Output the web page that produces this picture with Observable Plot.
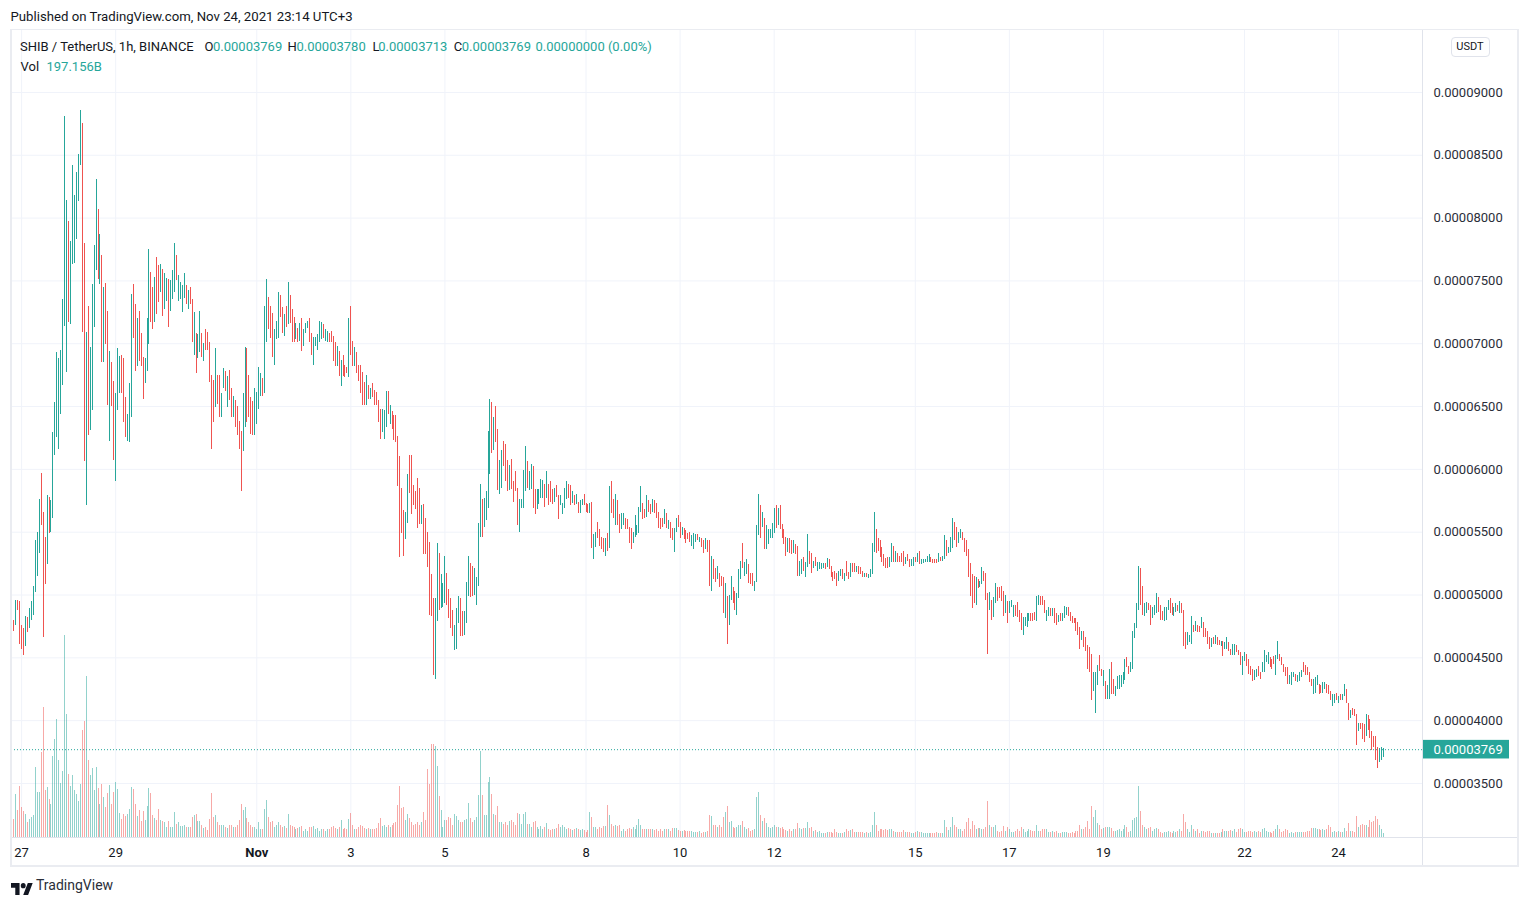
<!DOCTYPE html>
<html>
<head>
<meta charset="utf-8">
<script src="https://cdn.jsdelivr.net/npm/d3@7"></script>
<script src="https://cdn.jsdelivr.net/npm/@observablehq/plot@0.6"></script>
<style>
html,body{margin:0;padding:0;background:#fff;overflow:hidden;}
#wrap{position:relative;width:1529px;height:905px;font-family:Roboto,"Liberation Sans",sans-serif;color:#131722;}
#wrap svg{position:absolute;left:0;top:0;overflow:visible;}
.t{position:absolute;white-space:nowrap;font-size:13px;line-height:13px;}
.line{position:absolute;background:#e0e3eb;}
</style>
</head>
<body>
<div id="wrap"></div>
<script>
// ---------- data (prices in units of 1e-7 USDT, volume in billions SHIB) ----------
const firstBarUTC3 = [2021, 9, 26, 19];          // first visible 1h bar: Oct 26 19:00 (UTC+3)
const lastBar = {open: 0.00003769, high: 0.00003780, low: 0.00003713, close: 0.00003769, volume: "197.156B"};

const barLow = [
466,471,476,488,461,457,452,459,470,473, 480,484,502,515,533,555,466,508,524,549,
550,561,611,625,616,644,667,714,677,717, 715,763,764,783,813,842,709,606,571,627,
631,647,713,758,751,747,685,685,699,651, 622,650,607,590,647,660,660,637,625,622,
621,641,704,678,682,686,682,656,668,678, 699,717,711,717,723,733,741,722,727,734,
713,726,735,741,750,734,735,725,736,731, 727,731,701,691,676,688,693,689,686,695,
695,669,616,637,649,652,641,641,664,662, 649,655,641,641,633,627,616,582,614,633,
637,641,628,627,627,636,648,658,658,660, 701,711,704,689,683,703,704,721,708,706,
713,715,716,701,701,703,701,702,694,698, 708,712,701,691,683,698,695,701,703,704,
702,701,701,701,686,682,682,674,666,674, 673,676,673,691,682,682,676,670,660,651,
651,651,656,656,657,651,651,637,624,629, 624,633,644,636,632,623,621,586,530,549,
531,544,557,581,564,571,568,553,556,556, 532,532,522,484,483,436,433,479,488,489,
490,493,492,481,473,467,456,457,477,467, 467,468,477,499,498,499,500,492,507,546,
546,554,559,569,596,613,615,621,583,580, 585,602,590,582,583,584,574,582,555,550,
569,569,582,585,583,584,569,564,568,572, 577,577,570,577,571,574,572,574,578,560,
571,564,569,576,577,571,573,571,572,565, 565,571,571,566,565,565,537,528,538,545,
539,536,534,531,535,537,565,561,555,555, 549,552,555,552,552,541,536,541,546,547,
549,566,560,561,562,566,564,566,565,561, 553,552,554,556,553,552,545,543,534,550,
554,545,547,544,541,544,542,539,536,542, 543,542,538,533,536,534,507,503,512,510,
512,506,507,485,481,461,476,496,493,488, 484,497,512,521,515,516,509,508,507,503,
510,547,545,554,536,536,540,545,545,549, 553,555,552,545,540,531,534,533,532,533,
532,515,515,516,519,514,522,524,517,521, 523,519,520,520,521,520,522,520,514,511,
512,507,511,515,512,511,515,512,514,518, 518,518,516,516,514,514,514,513,514,516,
534,533,535,530,526,523,521,521,522,526, 526,526,526,526,526,523,524,527,522,523,
523,526,526,524,524,525,526,526,526,526, 525,525,525,526,527,527,528,531,533,534,
537,543,538,541,545,543,534,531,514,499, 489,493,492,505,506,508,511,496,453,488,
480,482,493,495,497,495,483,485,477,485, 490,482,483,482,478,472,468,475,474,479,
479,479,480,479,492,492,492,485,479,483, 483,483,477,476,478,479,479,481,484,483,
479,477,477,471,468,457,464,458,455,441, 438,416,423,406,428,439,435,427,417,417,
417,421,421,419,425,425,426,429,432,442, 437,438,441,465,473,488,492,484,483,485,
488,476,481,484,485,486,480,480,479,480, 488,485,484,483,486,487,485,485,459,457,
460,462,461,470,471,470,470,473,466,466, 461,457,458,461,461,460,460,459,451,457,
457,455,452,452,452,454,452,444,436,447, 443,437,436,431,432,434,435,433,438,438,
446,445,442,441,445,436,449,447,444,438, 435,429,429,428,434,431,430,431,434,438,
436,436,430,427,421,422,428,421,422,422, 425,422,421,416,411,414,416,414,416,416,
419,414,400,402,404,403,380,391,393,385, 383,387,392,386,376,379,368,362,367,368,
371];

const barHigh = [
482,480,496,496,495,476,473,483,482,489, 495,507,543,550,576,597,566,546,579,578,
575,629,653,693,688,695,735,881,814,797, 781,842,818,836,851,886,875,780,709,730,
697,747,778,831,807,787,770,745,748,726, 694,685,670,660,696,690,691,688,657,644,
668,739,747,731,720,726,708,689,688,720, 775,757,745,753,769,762,763,759,756,752,
751,750,758,780,770,754,749,746,756,746, 742,745,735,725,708,707,726,708,700,711,
709,701,675,671,696,675,675,660,680,678, 674,679,664,658,655,650,638,630,660,697,
696,675,657,654,664,661,681,676,672,730, 751,737,730,724,711,718,741,738,729,723,
730,749,738,727,721,716,712,716,720,711, 716,718,720,708,705,705,707,718,717,715,
711,710,708,710,706,701,698,694,687,691, 683,681,720,730,702,697,693,683,683,677,
669,675,667,664,668,663,661,655,648,648, 647,662,662,651,646,643,643,626,610,585,
567,566,596,611,611,587,582,593,585,571, 572,561,550,542,516,497,497,541,533,516,
509,531,517,504,497,488,476,489,499,497, 487,487,510,531,525,523,521,514,557,588,
576,577,582,630,656,653,641,650,632,607, 615,622,620,607,603,608,590,598,585,576,
576,599,618,606,598,604,602,584,584,584, 592,591,588,598,588,590,584,585,587,579,
579,573,585,590,588,587,582,579,580,574, 575,576,580,573,572,573,574,548,550,558,
552,546,545,545,549,586,590,576,580,575, 564,565,565,561,560,554,553,550,563,555,
570,586,573,568,579,575,572,576,575,573, 566,561,561,568,565,559,558,553,553,561,
563,558,554,553,551,549,550,547,549,548, 548,546,545,543,545,543,543,531,528,521,
523,517,515,514,509,499,500,515,506,503, 501,520,527,541,526,528,524,517,517,511,
555,580,571,566,561,555,552,552,557,569, 571,569,571,556,552,546,545,545,543,543,
540,539,527,528,530,526,548,535,533,527, 530,526,526,525,525,525,529,528,523,518,
519,517,519,520,520,517,527,518,525,525, 525,523,523,522,519,517,517,516,520,541,
566,552,545,543,538,532,529,530,530,541, 539,535,533,531,533,535,530,532,528,528,
530,530,533,535,528,528,528,531,532,530, 528,528,528,533,530,531,547,543,538,546,
561,558,554,550,552,550,545,543,536,525, 516,515,514,512,511,522,519,517,501,502,
496,498,509,506,506,507,503,500,495,495, 496,492,492,494,488,485,482,482,485,485,
485,485,486,499,500,499,499,496,488,490, 489,489,489,485,484,485,485,491,490,490,
486,483,481,481,478,474,471,471,466,460, 458,453,438,438,444,452,441,440,431,428,
441,446,433,427,435,436,436,438,449,450, 443,446,471,477,493,523,521,507,493,494,
493,492,490,492,501,498,492,487,490,490, 496,497,493,490,493,492,495,493,488,470,
470,468,483,476,479,476,475,482,478,473, 471,466,465,466,468,466,464,463,463,462,
466,462,457,461,461,460,456,454,451,454, 453,449,443,441,440,441,443,438,446,456,
452,454,450,449,451,452,463,453,450,445, 442,442,436,438,438,437,436,438,440,446,
444,442,438,433,433,434,436,429,428,430, 430,429,428,423,421,421,422,419,421,421,
429,425,414,408,410,409,405,398,398,398, 397,405,404,401,391,387,387,379,378,379,
378];

// u = close >= open (teal), d = close < open (red)
const barDirection = [
"ududdddudu","uuuuudddud","uuuuuuuuud","uuuuuuddud","uuuudududd","udduuudddu","uudduddduu","uddudduduu","duuuduuuud","udduduudud",
"ddddudduud","uddudddduu","dddduuuudu","uddduuuddu","dudddududu","uudduuuuud","uuddddudud","dduddudddd","dududddddu","uududddddd",
"duuddddddu","dddddduudu","uudddduuud","duuudduuuu","duuuududdu","uddduddddu","uuuduudduu","uududddudd","uuuuddudud","uuddduduud",
"dddududdud","duudddduuu","uudduddudd","dddududduu","ddudddduuu","dudduddudd","uddduduudd","uuuduudddu","uududuuuuu","dudddduddu",
"dduuduuddu","duuuududdd","dduududdud","duddduduuu","uddddddduu","dudddduddu","ududuuuuud","ddduduuduu","udduuddddd","dduduudddu",
"duuddddudu","uudddduuuu","ddduuddduu","dudduduuud","dddddduddd","dduuuddudu","udduuuuuud","duuuuudduu","dduuuddduu","udduududdd",
"uuududdudd","ddududdudu","udduuddduu","dddduudduu","uuddduuddd","dduuuduuud","dddduuuddu","uddduududu","uddudddudd","dudddddduu",
"u"].join("");

const barVolume = [
1904,1036,2464,1540,2940,1708,1484,1288,840,1008, 1148,1260,4060,2632,2632,4928,7560,2716,2884,2184,
1876,4704,5684,6860,4452,3108,3808,11816,7140,3640, 2940,3584,2716,2464,2072,3080,6216,6748,9380,4452,
3584,4004,2716,4060,2828,1904,3080,2324,1736,2548, 2996,1904,2604,3164,2800,1372,1036,1316,1176,1316,
1624,2884,2772,1904,1204,1540,924,1484,980,1792, 2856,2548,1232,1064,980,1624,952,896,840,560,
924,560,560,1456,728,840,588,616,644,560, 560,560,1148,1260,1344,896,924,644,504,560,
364,1036,2520,1120,1260,840,700,644,644,560, 504,644,644,560,560,700,980,1876,1540,1736,
1064,840,700,560,560,420,840,420,420,1624, 2156,1120,840,896,560,644,840,672,560,616,
504,1316,700,616,560,420,504,560,616,336, 420,336,560,560,616,420,504,336,420,420,
336,420,420,560,616,504,420,560,952,420, 476,420,1036,1372,700,420,420,560,700,616,
504,420,504,420,420,420,504,784,1064,616, 644,560,700,560,700,784,840,1820,2940,1680,
1736,980,1316,1064,840,644,756,840,672,868, 1456,980,3920,3080,5404,5404,5320,4116,2380,1540,
560,980,980,1120,1064,700,1344,1176,980,840, 840,980,1036,1960,1064,840,980,1120,2436,5012,
2436,1260,1260,3192,3472,2492,1344,1260,1792,840, 840,756,840,644,896,980,840,644,1372,1344,
756,1344,1456,756,756,560,840,896,560,420, 616,420,560,784,420,364,420,420,476,728,
560,644,560,420,504,420,364,420,476,448, 364,420,364,280,364,1456,1120,560,560,420,
560,504,616,616,1848,1260,756,616,644,616, 700,336,420,336,420,504,420,560,420,700,
1036,644,420,420,420,420,420,420,364,420, 336,420,308,420,420,420,336,504,504,504,
364,308,336,364,336,308,308,308,280,280, 280,336,224,280,280,336,1260,1176,700,700,
560,644,560,1120,1456,1764,840,924,560,504, 560,700,644,896,560,420,504,336,364,420,
2296,2632,1232,896,1064,784,560,504,560,700, 560,560,476,560,420,364,336,420,336,420,
420,784,476,420,504,504,840,476,560,336, 364,280,336,224,224,224,280,280,280,224,
420,280,224,224,224,280,420,336,364,420, 280,280,280,280,280,224,280,224,280,644,
1456,644,336,420,420,364,420,364,420,420, 336,280,280,280,280,364,280,280,280,196,
196,280,336,280,280,196,196,196,224,224, 224,224,280,224,224,224,980,560,364,560,
1120,644,560,420,420,336,420,840,1064,420, 896,700,420,476,476,420,420,560,2100,644,
560,560,644,336,280,336,616,336,560,420, 280,280,336,420,336,560,420,280,336,420,
364,336,336,700,336,336,420,420,420,280, 280,336,280,336,196,196,280,280,280,196,
196,280,224,336,336,644,420,420,560,896, 420,1764,1120,1540,784,644,420,476,560,560,
560,504,336,336,364,420,336,420,700,560, 280,336,980,1064,1120,2940,1484,700,560,420,
476,560,336,420,476,420,280,224,280,280, 336,280,224,336,280,336,420,336,1344,840,
420,280,700,420,336,420,224,336,336,280, 336,336,196,224,224,224,224,280,420,336,
336,336,364,336,420,280,420,476,420,280, 280,336,336,280,336,280,336,280,420,476,
336,280,280,224,336,420,700,420,280,336, 420,364,224,280,224,280,280,280,280,280,
280,336,336,476,476,476,420,420,364,420, 364,420,644,560,280,336,280,336,280,280,
476,336,784,336,336,280,1176,560,644,756, 700,700,560,980,840,924,1176,1036,700,420,
197.156];

const priceTicks = [350, 400, 450, 500, 550, 600, 650, 700, 750, 800, 850, 900];
const timeTickDays = ["2021-10-27","2021-10-29","2021-11-01","2021-11-03","2021-11-05","2021-11-08","2021-11-10","2021-11-12","2021-11-15","2021-11-17","2021-11-19","2021-11-22","2021-11-24"];
const timeTickLabels = ["27","29","Nov","3","5","8","10","12","15","17","19","22","24"];

// ---------- build ----------
const UP = "#26a69a", DOWN = "#ef5350", TEXT = "#131722", GRID = "#f0f3fa";
const t0 = Date.UTC(...firstBarUTC3);
const bars = barLow.map((lo, i) => ({
  t: new Date(t0 + i * 3600e3),
  low: lo, high: barHigh[i],
  up: barDirection[i] === "u",
  vol: barVolume[i]
}));
const tickDates = timeTickDays.map(s => new Date(s + "T00:00:00Z"));
const labelOf = new Map(tickDates.map((d, i) => [+d, timeTickLabels[i]]));
const xDomain = [new Date(Date.UTC(2021, 9, 26, 18, 51)), new Date(Date.UTC(2021, 10, 25, 18, 48))];
const lastE7 = lastBar.close * 1e7;
const fmtPrice = v => (v / 1e7).toFixed(8);

const W = 1529, H = 868;
const common = {
  width: W, height: H,
  marginLeft: 11, marginRight: W - 1422, marginTop: 30, marginBottom: H - 837,
  style: {fontFamily: "Roboto, 'Liberation Sans', sans-serif", fontSize: "13px", color: TEXT, background: "transparent", overflow: "visible"}
};

const main = Plot.plot({
  ...common,
  x: {type: "utc", domain: xDomain},
  y: {domain: [307.0, 949.3]},
  marks: [
    Plot.gridY(priceTicks, {stroke: GRID, strokeOpacity: 1}),
    Plot.gridX(tickDates, {stroke: GRID, strokeOpacity: 1}),
    Plot.ruleY([lastE7], {stroke: UP, strokeDasharray: "1,2", strokeWidth: 1}),
    Plot.ruleX(bars, {x: "t", y1: "low", y2: "high", stroke: d => d.up ? UP : DOWN, strokeWidth: 1, shapeRendering: "crispEdges"}),
    Plot.axisY(priceTicks, {anchor: "right", tickSize: 0, tickPadding: 11, tickFormat: fmtPrice, label: null, fill: "#2a2e39"}),
    Plot.axisX(tickDates.filter(d => labelOf.get(+d) !== "Nov"), {anchor: "bottom", tickSize: 0, tickPadding: 10, tickFormat: d => labelOf.get(+d), label: null, fill: TEXT}),
    Plot.axisX(tickDates.filter(d => labelOf.get(+d) === "Nov"), {anchor: "bottom", tickSize: 0, tickPadding: 10, tickFormat: d => labelOf.get(+d), label: null, fill: TEXT, fontWeight: "bold"})
  ]
});

const volume = Plot.plot({
  ...common,
  x: {type: "utc", domain: xDomain, axis: null},
  y: {domain: [0, 11816], range: [836.5, 634.5], axis: null},
  marks: [
    Plot.ruleX(bars, {x: "t", y: "vol", stroke: d => d.up ? UP : DOWN, strokeOpacity: 0.5, strokeWidth: 1, shapeRendering: "crispEdges"})
  ]
});

const wrap = document.getElementById("wrap");
wrap.appendChild(main);
wrap.appendChild(volume);

// last-price tag on the price scale
const yTag = main.scale("y").apply(lastE7);
const xr = main.scale("x").range;
const tag = d3.select(volume).append("g");
tag.append("rect").attr("x", xr[1]).attr("y", yTag - 9.3).attr("width", 87).attr("height", 18.6).attr("fill", UP);
tag.append("text").attr("x", xr[1] + 11.5).attr("y", yTag).attr("dy", "0.35em").attr("text-anchor", "start")
  .attr("fill", "#fff").attr("font-size", 13).attr("font-family", "Roboto, sans-serif").text(lastBar.close.toFixed(8));

// frame and pane separators
function div(cls, css, html) { const e = document.createElement("div"); e.className = cls; e.style.cssText = css; if (html != null) e.innerHTML = html; wrap.appendChild(e); return e; }
div("", "position:absolute;left:10px;top:29px;width:1509px;height:838px;box-sizing:border-box;border:2px solid #eaecf1;border-top-width:1px;");
div("line", "left:1422px;top:30px;width:1px;height:835px;");
div("line", "left:12px;top:837px;width:1505px;height:1px;");

// header texts
div("t", "left:10.5px;top:10px;font-size:13.2px;color:" + TEXT + ";", "Published on TradingView.com, Nov 24, 2021 23:14 UTC+3");
const legendItems = [
  [20, "SHIB / TetherUS, 1h, BINANCE", TEXT],
  [204.5, "O", TEXT], [213, lastBar.open.toFixed(8), UP],
  [287.5, "H", TEXT], [296.5, lastBar.high.toFixed(8), UP],
  [372.4, "L", TEXT], [378.2, lastBar.low.toFixed(8), UP],
  [453.7, "C", TEXT], [461.8, lastBar.close.toFixed(8), UP],
  [535.5, (lastBar.close - lastBar.open).toFixed(8) + " (0.00%)", UP]
];
legendItems.forEach(([x, s, c]) => div("t", `left:${x}px;top:40px;color:${c};`, s));
div("t", `left:20.5px;top:59.5px;color:${TEXT};`, "Vol");
div("t", `left:46.5px;top:59.5px;color:${UP};`, lastBar.volume);

// currency button
div("", "position:absolute;left:1450.5px;top:37px;width:39px;height:20px;box-sizing:border-box;border:1px solid #e0e3eb;border-radius:4px;font-size:11px;line-height:18px;text-align:center;color:" + TEXT + ";", "USDT");

// TradingView logo
div("", "position:absolute;left:11px;top:879.5px;width:22px;height:12px;",
  '<svg width="22" height="12" viewBox="0 4 36 18" preserveAspectRatio="none" style="position:static"><path d="M14 22H7V11H0V4h14v18zM28 22h-8l7.5-18h8L28 22z" fill="#131722"/><circle cx="20" cy="8" r="4" fill="#131722"/></svg>');
div("", "position:absolute;left:36px;top:878px;font-size:14px;line-height:14px;color:#2a2e39;white-space:nowrap;", "TradingView");
</script>
</body>
</html>
